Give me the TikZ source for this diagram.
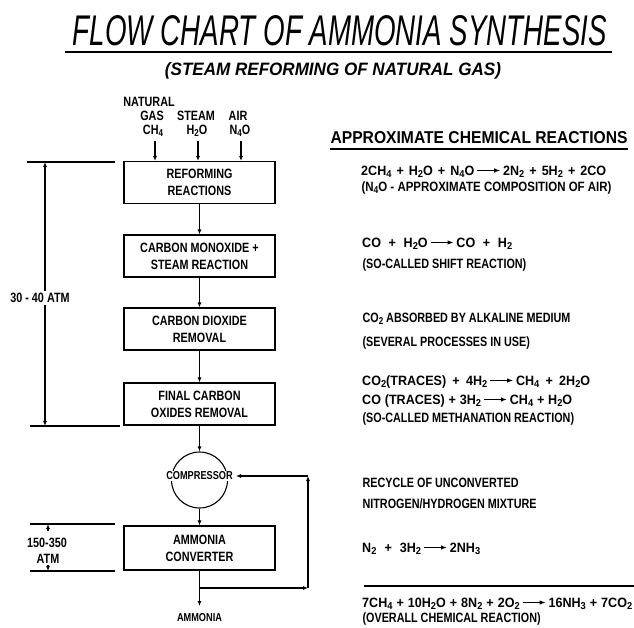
\documentclass[tikz,border=0pt]{standalone}
\usepackage{fontspec}
\setmainfont{Liberation Sans}[FakeStretch=0.8]
\newfontfamily\eqf{Liberation Sans}[FakeStretch=0.93,WordSpace=1.3]
\newfontfamily\midf{Liberation Sans}[FakeStretch=0.85]
\usetikzlibrary{arrows.meta}
\newcommand\lbl{\fontsize{13.5}{17}\selectfont\bfseries}
\newcommand\cmp{\fontsize{11.5}{13}\selectfont\bfseries}
\newcommand\sbs[1]{\raisebox{-0.4ex}{\fontsize{10}{10}\selectfont #1}}
\newcommand\rarr{\,\tikz[baseline=-4.5pt]\draw[line width=1.3pt,-{Latex[length=6pt,width=4.5pt]}](0pt,0pt)--(23pt,0pt);\,}
\newcommand\eqw[2]{\makebox[#1][s]{#2}}
\begin{document}
\begin{tikzpicture}[x=1pt,y=-1pt,line width=1.1pt,>={Latex[length=5pt,width=4pt]},
  box/.style={draw,minimum width=151pt,minimum height=42pt,align=center,font=\lbl,inner sep=0pt},
  lbl/.style={font=\lbl,inner sep=0pt},
  rtxt/.style={anchor=base west,font=\lbl,inner sep=0pt},
  reqn/.style={anchor=base west,font=\lbl\eqf,inner sep=0pt}]
\fill[white] (0,0) rectangle (634,627);
\useasboundingbox (0,0) rectangle (634,627);

% titles
\node[anchor=base,inner sep=0pt] (title) at (340,45) {\resizebox{534pt}{30pt}{\itshape FLOW CHART OF AMMONIA SYNTHESIS}};
\coordinate (ul1) at (65,52); \coordinate (ul2) at (612,52);
\draw[line width=2pt] (ul1) -- (ul2);
\node[anchor=base,inner sep=0pt] (subtitle) at (333,75) {\resizebox{336pt}{13pt}{\bfseries\itshape (STEAM REFORMING OF NATURAL GAS)}};

% flow boxes
\node[box] (ref) at (199.5,182.5) {REFORMING\\REACTIONS};
\node[box] (co) at (199.5,256) {CARBON MONOXIDE +\\STEAM REACTION};
\node[box] (cd) at (199.5,329) {CARBON DIOXIDE\\REMOVAL};
\node[box] (fc) at (199.5,404) {FINAL CARBON\\OXIDES REMOVAL};
\node[draw,circle,minimum size=56pt,inner sep=0pt] (comp) at (199.5,480) {};
\node[font=\cmp,fill=white,inner sep=1pt] (comptxt) at (199.5,476) {COMPRESSOR};
\node[box,minimum height=44pt] (conv) at (199.5,548) {AMMONIA\\CONVERTER};

\draw[->] (ref) -- (co);
\draw[->] (co) -- (cd);
\draw[->] (cd) -- (fc);
\draw[->] (fc) -- (comp);
\draw[->] (comp) -- (conv);

% inputs
\node[lbl,anchor=base] (nat) at (149,106) {NATURAL};
\node[lbl,anchor=base] (gas) at (152,120) {GAS};
\node[lbl,anchor=base] (ch4) at (153,134) {CH\sbs{4}};
\node[lbl,anchor=base] (steam) at (196,120) {STEAM};
\node[lbl,anchor=base] (h2o) at (197,134) {H\sbs{2}O};
\node[lbl,anchor=base] (air) at (238,120) {AIR};
\node[lbl,anchor=base] (n4o) at (240,134) {N\sbs{4}O};
\coordinate (in1) at (155,141); \coordinate (in2) at (198,141); \coordinate (in3) at (241,141);
\draw[->] (in1) -- (in1 |- ref.north);
\draw[->] (in2) -- (in2 |- ref.north);
\draw[->] (in3) -- (in3 |- ref.north);

% outlet and recycle
\coordinate (split) at (199.5,588);
\coordinate (out) at (199.5,606);
\coordinate (rc1) at (308,588);
\coordinate (rc2) at (308,476);
\coordinate (compin) at (236,476);
\draw (conv.south) -- (split);
\draw[->] (split) -- (out);
\node[font=\cmp,inner sep=0pt] (amm) at (199.5,618) {AMMONIA};
\draw[->] (split) -- (rc1);
\draw[->] (rc1) -- (rc2);
\draw[->] (rc2) -- (compin);

% 30-40 ATM
\coordinate (p1) at (27,162); \coordinate (p2) at (115,162);
\coordinate (p3) at (30,426); \coordinate (p4) at (120,426);
\coordinate (a1) at (45,162); \coordinate (a2) at (45,426);
\draw (p1) -- (p2);
\draw (p3) -- (p4);
\draw[<->] (a1) -- (a2);
\node[lbl,fill=white,inner sep=2pt] (atm1) at (40,298) {30 - 40 ATM};

% 150-350 ATM
\coordinate (q1) at (30,524); \coordinate (q2) at (115,524);
\coordinate (q3) at (30,571); \coordinate (q4) at (115,571);
\coordinate (b1) at (48,531); \coordinate (b2) at (48,524);
\coordinate (b3) at (48,565); \coordinate (b4) at (48,571);
\draw (q1) -- (q2);
\draw (q3) -- (q4);
\draw[->] (b1) -- (b2);
\draw[->] (b3) -- (b4);
\node[lbl,anchor=base] (atm2a) at (47,547) {150-350};
\node[lbl,anchor=base] (atm2b) at (48,563) {ATM};

% right side
\node[anchor=base west,inner sep=0pt] (head) at (330,143) {\resizebox{297pt}{12pt}{\bfseries APPROXIMATE CHEMICAL REACTIONS}};
\coordinate (hu1) at (330,149); \coordinate (hu2) at (628,149);
\draw[line width=1.8pt] (hu1) -- (hu2);

\node[reqn] (e1) at (361,175) {\eqw{245pt}{2CH\sbs{4} + H\sbs{2}O + N\sbs{4}O\rarr 2N\sbs{2} + 5H\sbs{2} + 2CO}};
\node[rtxt,font=\lbl\midf] (e1b) at (361,191) {(N\sbs{4}O - APPROXIMATE COMPOSITION OF AIR)};
\node[reqn] (e2) at (362,247) {\eqw{150pt}{CO + H\sbs{2}O\rarr CO + H\sbs{2}}};
\node[rtxt] (e2b) at (362,268) {(SO-CALLED SHIFT REACTION)};
\node[rtxt] (e3) at (362,322) {CO\sbs{2} ABSORBED BY ALKALINE MEDIUM};
\node[rtxt] (e3b) at (362,346) {(SEVERAL PROCESSES IN USE)};
\node[reqn] (e4) at (362,385) {\eqw{228pt}{CO\sbs{2}(TRACES) + 4H\sbs{2}\rarr CH\sbs{4} + 2H\sbs{2}O}};
\node[reqn] (e4b) at (362,404) {\eqw{210pt}{CO (TRACES) + 3H\sbs{2}\rarr CH\sbs{4} + H\sbs{2}O}};
\node[rtxt] (e4c) at (362,422) {(SO-CALLED METHANATION REACTION)};
\node[rtxt] (e5) at (362,487) {RECYCLE OF UNCONVERTED};
\node[rtxt] (e5b) at (362,508) {NITROGEN/HYDROGEN MIXTURE};
\node[reqn] (e6) at (362,552) {\eqw{118pt}{N\sbs{2} + 3H\sbs{2}\rarr 2NH\sbs{3}}};
\coordinate (r1) at (364,586); \coordinate (r2) at (634,586);
\draw[line width=1.4pt] (r1) -- (r2);
\node[reqn] (e7) at (362,607) {\eqw{270pt}{7CH\sbs{4} + 10H\sbs{2}O + 8N\sbs{2} + 2O\sbs{2}\rarr 16NH\sbs{3} + 7CO\sbs{2}}};
\node[rtxt] (e7b) at (362,622) {(OVERALL CHEMICAL REACTION)};
\end{tikzpicture}
\end{document}
